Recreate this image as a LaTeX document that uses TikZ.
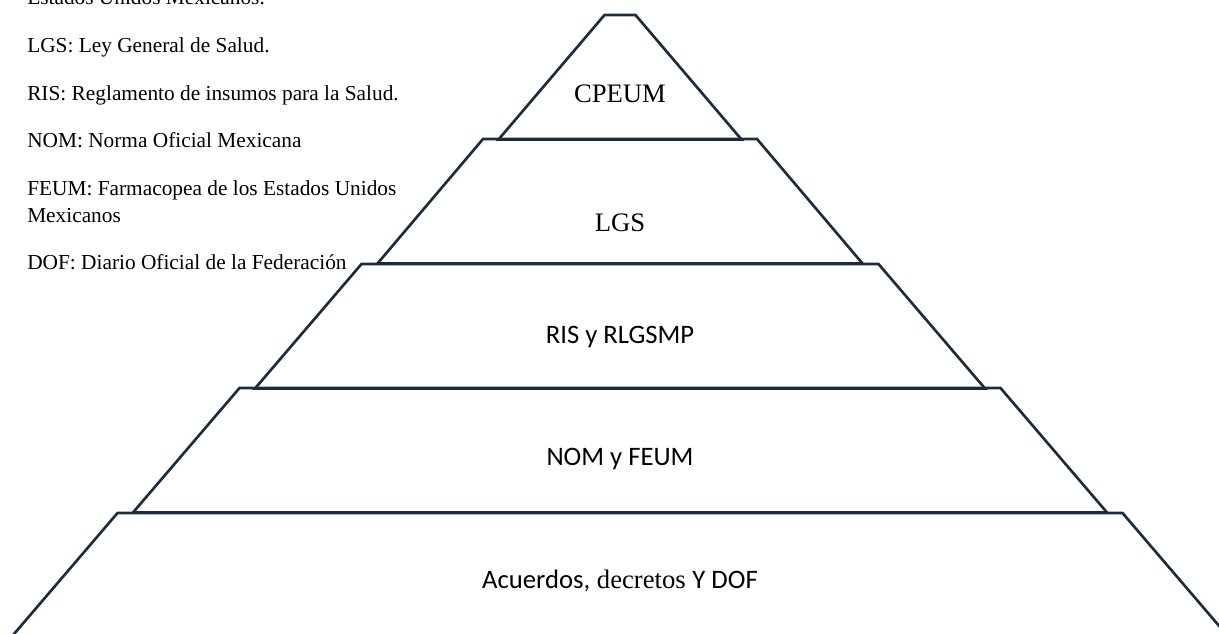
\documentclass[tikz,border=0pt]{standalone}
\usepackage{fontspec}
\setmainfont{Liberation Serif}
\newfontfamily\calibri{Carlito}
\usetikzlibrary{positioning}
\definecolor{navy}{HTML}{1C2C3E}

\begin{document}
\begin{tikzpicture}[x=0.75pt,y=-0.75pt,
  tier/.style={draw=navy,line width=2pt},
  lvl/.style={anchor=base,font=\fontsize{20}{24}\selectfont},
  sanslvl/.style={anchor=base,font=\calibri\fontsize{20}{24}\selectfont},
  note/.style={anchor=base west,inner sep=0pt,font=\fontsize{16}{20}\selectfont}]
  \useasboundingbox (0,0) rectangle (1219,633);
  \clip (0,0) rectangle (1219,633);
  % pyramid tiers, top to bottom
  \foreach \yt/\tw/\bw in {15/15.5/121.5,139/137/242.5,264/258.5/365,388/380.5/487,513/502.5/609}
    \draw[tier] (620-\tw,\yt) -- (620+\tw,\yt) -- (620+\bw,\yt+124.5) -- (620-\bw,\yt+124.5) -- cycle;
  \node[lvl] (cpeum) at (620,102) {CPEUM};
  \node[lvl] (lgs) at (620,231) {LGS};
  \node[sanslvl] (ris) at (620,343) {RIS y RLGSMP};
  \node[sanslvl] (nom) at (620,465) {NOM y FEUM};
  \node[lvl] (acuerdos) at (620,588) {{\calibri Acuerdos,} decretos {\calibri Y DOF}};
  % abbreviations
  \node[note] (estados) at (27,4) {Estados Unidos Mexicanos.};
  \node[note] (lgsdef) at (27,52) {LGS: Ley General de Salud.};
  \node[note] (risdef) at (27,100) {RIS: Reglamento de insumos para la Salud.};
  \node[note] (nomdef) at (27,147) {NOM: Norma Oficial Mexicana};
  \node[note] (feumdef) at (27,195) {FEUM: Farmacopea de los Estados Unidos};
  \node[note] (feumdef2) at (27,222) {Mexicanos};
  \node[note] (dofdef) at (27,269) {DOF: Diario Oficial de la Federación};
\end{tikzpicture}
\end{document}
